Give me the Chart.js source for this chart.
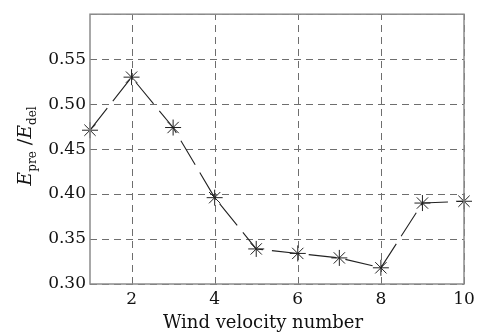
<!DOCTYPE html>
<html>
<head>
<meta charset="utf-8">
<script src="https://cdn.jsdelivr.net/npm/chart.js@4/dist/chart.umd.min.js"></script>
<style>
  html, body { margin: 0; padding: 0; background: #fff; }
  #wrap { width: 487px; height: 336px; }
</style>
</head>
<body>
<div id="wrap"><canvas id="graph" width="487" height="336"></canvas></div>
<script>
// values
const windNumbers = [1, 2, 3, 4, 5, 6, 7, 8, 9, 10];
const ratioValues = [0.471, 0.530, 0.474, 0.396, 0.339, 0.334, 0.329, 0.318, 0.390, 0.392];
const xTicks = [2, 4, 6, 8, 10];
const yTicks = [0.30, 0.35, 0.40, 0.45, 0.50, 0.55, 0.60];
const xTitle = 'Wind velocity number';

const serif = '"DejaVu Serif", "Liberation Serif", serif';

// dashed grid, drawn from the scales' own tick positions
const gridPlugin = {
    id: 'dashGrid',
    beforeDatasetsDraw(chart) {
        const ctx = chart.ctx;
        const a = chart.chartArea;
        const xs = chart.scales.x, ys = chart.scales.y;
        ctx.save();
        ctx.strokeStyle = '#6e6e6e';
        ctx.lineWidth = 1;
        ctx.setLineDash([7, 5]);
        xTicks.forEach(v => {
            const px = Math.round(xs.getPixelForValue(v)) + 0.5;
            ctx.beginPath();
            ctx.moveTo(px, a.bottom);
            ctx.lineTo(px, a.top);
            ctx.stroke();
        });
        yTicks.forEach(v => {
            const py = Math.round(ys.getPixelForValue(v)) + 0.5;
            ctx.beginPath();
            ctx.moveTo(a.left, py);
            ctx.lineTo(a.right, py);
            ctx.stroke();
        });
        ctx.restore();
    }
};

// box round the plot, axis titles (y one with subscripts)
const framePlugin = {
    id: 'frame',
    afterDraw(chart) {
        const ctx = chart.ctx;
        const a = chart.chartArea;
        ctx.save();
        ctx.strokeStyle = '#8c8c8c';
        ctx.lineWidth = 1.5;
        ctx.setLineDash([]);
        ctx.strokeRect(a.left, a.top, a.right - a.left, a.bottom - a.top);

        ctx.fillStyle = '#111';
        ctx.font = '18px ' + serif;
        ctx.textAlign = 'center';
        ctx.textBaseline = 'alphabetic';
        ctx.fillText(xTitle, 263, 328);

        // E_pre / E_del, rotated
        ctx.textAlign = 'left';
        ctx.translate(24, 146);
        ctx.rotate(-Math.PI / 2);
        const big = 'italic 19px ' + serif;
        const small = '12px ' + serif;
        const parts = [
            { t: 'E', f: big, dy: 0 },
            { t: 'pre', f: small, dy: 5 },
            { t: ' /', f: '19px ' + serif, dy: 0 },
            { t: 'E', f: big, dy: 0 },
            { t: 'del', f: small, dy: 5 }
        ];
        let w = 0;
        parts.forEach(p => { ctx.font = p.f; w += ctx.measureText(p.t).width; });
        let x = -w / 2;
        parts.forEach(p => {
            ctx.font = p.f;
            ctx.fillText(p.t, x, 7 + p.dy);
            x += ctx.measureText(p.t).width;
        });
        ctx.restore();
    }
};

const ctx = document.getElementById('graph').getContext('2d');
new Chart(ctx, {
    type: 'line',
    data: {
        datasets: [{
            data: windNumbers.map((n, i) => ({ x: n, y: ratioValues[i] })),
            borderColor: '#222',
            borderWidth: 1.1,
            borderDash: [28, 9],
            fill: false,
            tension: 0,
            clip: false,
            pointStyle: 'star',
            pointRadius: 8,
            pointBorderColor: '#222',
            pointBackgroundColor: '#222',
            pointBorderWidth: 1
        }]
    },
    plugins: [gridPlugin, framePlugin],
    options: {
        responsive: false,
        animation: false,
        layout: { padding: { top: 7, right: 23, left: 0, bottom: 0 } },
        plugins: { legend: { display: false }, tooltip: { enabled: false } },
        scales: {
            x: {
                type: 'linear',
                min: 1,
                max: 10,
                afterBuildTicks: s => { s.ticks = xTicks.map(v => ({ value: v })); },
                afterFit: s => { s.height = 52; },
                grid: { display: false, drawTicks: false },
                border: { display: false },
                ticks: {
                    padding: 5,
                    color: '#111',
                    font: { family: serif, size: 17 }
                }
            },
            y: {
                min: 0.30,
                max: 0.60,
                afterBuildTicks: s => { s.ticks = yTicks.map(v => ({ value: v })); },
                afterFit: s => { s.width = 90; },
                grid: { display: false, drawTicks: false },
                border: { display: false },
                ticks: {
                    padding: 4,
                    color: '#111',
                    font: { family: serif, size: 17 },
                    callback: v => v >= 0.595 ? '' : v.toFixed(2)
                }
            }
        }
    }
});
</script>
</body>
</html>
